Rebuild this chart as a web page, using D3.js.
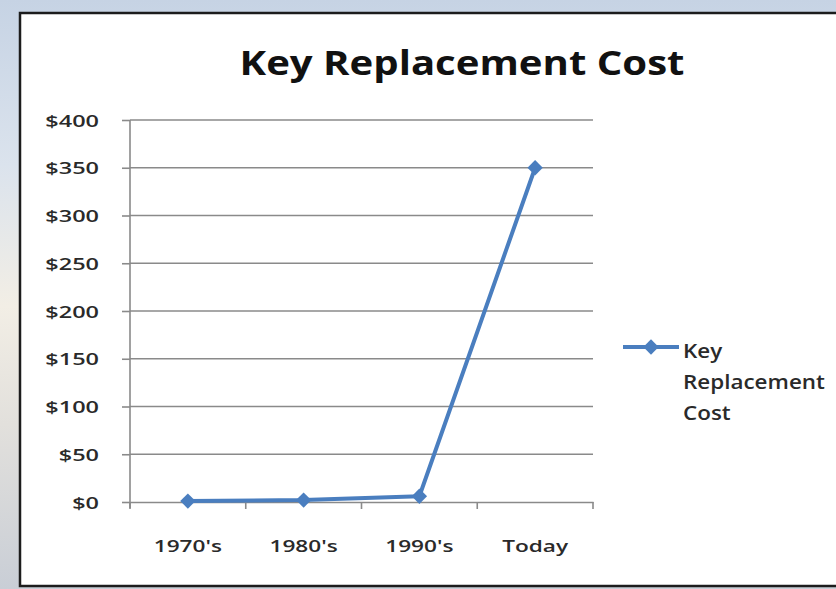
<!DOCTYPE html>
<html><head><meta charset="utf-8">
<script src="https://cdn.jsdelivr.net/npm/d3@7"></script>
<style>
html,body{margin:0;padding:0;width:836px;height:589px;overflow:hidden;}
body{background:linear-gradient(180deg,#c6d3e4 0%,#dbe3ed 28%,#f2eee5 52%,#e2e0dc 72%,#c9ced6 100%);}
</style></head><body>
<svg id="chart" width="836" height="589"></svg>
<script>
const categories = ["1970's", "1980's", "1990's", "Today"];
const values = [1, 2, 6, 350];
const yTicks = [0, 50, 100, 150, 200, 250, 300, 350, 400];
const seriesName = "Key Replacement Cost";
const titleText = "Key Replacement Cost";

const svg = d3.select("#chart");
const color = "#4a7ebf";
const font = "'Open Sans', Lato, sans-serif";

// stretch text horizontally (the reference is horizontally widened)
function stretch(sel, factor) {
  sel.each(function () {
    const len = this.getComputedTextLength();
    d3.select(this).attr("textLength", len * factor).attr("lengthAdjust", "spacingAndGlyphs");
  });
}

// chart frame
svg.append("rect").attr("x", 20).attr("y", 13).attr("width", 830).attr("height", 573)
  .attr("fill", "#fff").attr("stroke", "#1c1c1c").attr("stroke-width", 2.5);

const x = d3.scaleBand().domain(categories).range([130, 593]);
const y = d3.scaleLinear().domain([0, 400]).range([502, 120]);

// title
const title = svg.append("text").attr("x", 462).attr("y", 75).attr("text-anchor", "middle")
  .attr("font-family", font).attr("font-weight", "bold")
  .attr("font-size", 34).attr("fill", "#111").text(titleText);
title.each(function () {
  d3.select(this).attr("textLength", 445).attr("lengthAdjust", "spacingAndGlyphs");
});

// gridlines
svg.append("g").selectAll("line").data(yTicks.filter(d => d > 0)).join("line")
  .attr("x1", 130).attr("x2", 593).attr("y1", d => y(d)).attr("y2", d => y(d))
  .attr("stroke", "#8a8a8a").attr("stroke-width", 1.6);

// y axis
const yAxis = d3.axisLeft(y).tickValues(yTicks).tickSize(8).tickPadding(23)
  .tickFormat(d => "$" + d);
const gy = svg.append("g").attr("transform", "translate(130,0)").call(yAxis);
gy.select(".domain").attr("stroke", "#8a8a8a").attr("stroke-width", 1.6).attr("d", "M0,120V508");
gy.selectAll(".tick line").attr("stroke", "#8a8a8a").attr("stroke-width", 1.6);
gy.selectAll(".tick text").attr("font-family", font).attr("font-weight", 600)
  .attr("font-size", 17).attr("fill", "#2a2a2a").attr("dy", "0.36em");
stretch(gy.selectAll(".tick text"), 1.38);

// x axis
const xAxis = d3.axisBottom(x).tickSize(0).tickPadding(38);
const gx = svg.append("g").attr("transform", "translate(0,502)").call(xAxis);
gx.select(".domain").attr("stroke", "#8a8a8a").attr("stroke-width", 1.6);
gx.selectAll(".tick text").attr("font-family", font).attr("font-weight", 600)
  .attr("font-size", 17).attr("fill", "#2a2a2a");
stretch(gx.selectAll(".tick text"), 1.33);
// boundary tick marks
const bounds = categories.map(c => x(c)).concat([x.range()[1]]);
gx.append("g").selectAll("line").data(bounds).join("line")
  .attr("x1", d => d).attr("x2", d => d).attr("y1", 0).attr("y2", 7)
  .attr("stroke", "#8a8a8a").attr("stroke-width", 1.6);

// line
const line = d3.line().x((d, i) => x(categories[i]) + x.bandwidth() / 2).y(d => y(d));
svg.append("path").datum(values).attr("d", line).attr("fill", "none")
  .attr("stroke", color).attr("stroke-width", 4).attr("stroke-linejoin", "round");

const diamond = d3.symbol().type(d3.symbolDiamond2).size(150);
svg.append("g").selectAll("path").data(values).join("path")
  .attr("transform", (d, i) => `translate(${x(categories[i]) + x.bandwidth() / 2},${y(d)})`)
  .attr("d", diamond).attr("fill", color);

// legend
const lg = svg.append("g");
lg.append("line").attr("x1", 623).attr("x2", 679).attr("y1", 347).attr("y2", 347)
  .attr("stroke", color).attr("stroke-width", 4);
lg.append("path").attr("transform", "translate(651,347)").attr("d", diamond).attr("fill", color);
const words = ["Key", "Replacement", "Cost"];
const lt = lg.selectAll("text").data(words).join("text")
  .attr("x", 683).attr("y", (d, i) => 358 + i * 31)
  .attr("font-family", font).attr("font-weight", 600).attr("font-size", 19).attr("fill", "#2a2a2a")
  .text(d => d);
stretch(lt, 1.18);
</script>
</body></html>
